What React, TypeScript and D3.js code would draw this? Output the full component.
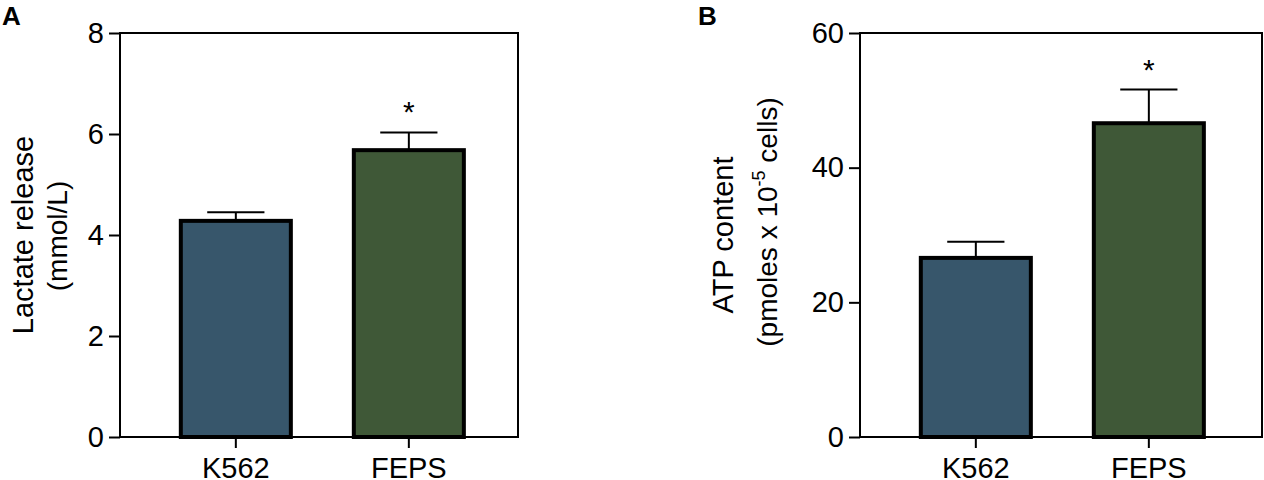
import * as d3 from 'd3';
import React, { useEffect, useRef } from 'react';

// categories shared by both panels
const categories = ['K562', 'FEPS'];

// Panel A: lactate release (mmol/L)
const lactateMeans = [4.28, 5.68];
const lactateErrors = [0.17, 0.35];
const lactateTicks = [0, 2, 4, 6, 8];

// Panel B: ATP content (pmoles x 10^-5 cells)
const atpMeans = [26.6, 46.6];
const atpErrors = [2.4, 5.0];
const atpTicks = [0, 20, 40, 60];

// significance marks
const significant = [false, true];

const barColors = ['#37566b', '#3f5837'];

const FONT = "Arial, 'Liberation Sans', sans-serif";
const W = 1264;
const H = 480;

interface PanelSpec {
   letter: string;
   letterX: number;
   left: number;
   right: number;
   means: number[];
   errors: number[];
   ticks: number[];
   title1: string;
   title1X: number;
   title2X: number;
   title2Y: number;
   isAtp: boolean;
}

const panels: PanelSpec[] = [
   {
      letter: 'A',
      letterX: 2,
      left: 120,
      right: 518,
      means: lactateMeans,
      errors: lactateErrors,
      ticks: lactateTicks,
      title1: 'Lactate release',
      title1X: 33,
      title2X: 67,
      title2Y: 236,
      isAtp: false,
   },
   {
      letter: 'B',
      letterX: 698,
      left: 860,
      right: 1262,
      means: atpMeans,
      errors: atpErrors,
      ticks: atpTicks,
      title1: 'ATP content',
      title1X: 733,
      title2X: 777,
      title2Y: 222,
      isAtp: true,
   },
];

const top = 33;
const bottom = 437;

const App = () => {
   const svgRef = useRef<SVGSVGElement | null>(null);

   useEffect(() => {
      const svgEl = svgRef.current;
      if (!svgEl) return;
      const svg = d3.select(svgEl);
      svg.selectAll('*').remove();

      panels.forEach((p) => {
         const g = svg.append('g');

         const y = d3
            .scaleLinear()
            .domain([0, p.ticks[p.ticks.length - 1]])
            .range([bottom, top]);

         const x = d3
            .scaleBand<string>()
            .domain(categories)
            .range([p.left, p.left + 400])
            .paddingInner(0.364)
            .paddingOuter(0.338)
            .align(0.52);

         const bw = x.bandwidth();

         // error bars (drawn under the bars)
         categories.forEach((c, i) => {
            const cx = (x(c) ?? 0) + bw / 2;
            const yTop = y(p.means[i] + p.errors[i]);
            g.append('line')
               .attr('x1', cx)
               .attr('x2', cx)
               .attr('y1', y(p.means[i]))
               .attr('y2', yTop)
               .attr('stroke', '#000')
               .attr('stroke-width', 2);
            g.append('line')
               .attr('x1', cx - bw * 0.26)
               .attr('x2', cx + bw * 0.26)
               .attr('y1', yTop)
               .attr('y2', yTop)
               .attr('stroke', '#000')
               .attr('stroke-width', 2);
            if (significant[i]) {
               g.append('text')
                  .attr('x', cx)
                  .attr('y', yTop - 10)
                  .attr('text-anchor', 'middle')
                  .attr('font-family', FONT)
                  .attr('font-size', 30)
                  .text('*');
            }
         });

         // bars
         g.selectAll('rect.bar')
            .data(p.means)
            .enter()
            .append('rect')
            .attr('class', 'bar')
            .attr('x', (_, i) => x(categories[i]) ?? 0)
            .attr('width', bw)
            .attr('y', (d) => y(d))
            .attr('height', (d) => bottom - y(d))
            .attr('fill', (_, i) => barColors[i])
            .attr('stroke', '#000')
            .attr('stroke-width', 4);

         // frame
         g.append('rect')
            .attr('x', p.left)
            .attr('y', top)
            .attr('width', p.right - p.left)
            .attr('height', bottom - top)
            .attr('fill', 'none')
            .attr('stroke', '#000')
            .attr('stroke-width', 2);

         // y axis
         const yAxis = g
            .append('g')
            .attr('transform', `translate(${p.left},0)`)
            .call(d3.axisLeft(y).tickValues(p.ticks).tickSize(11).tickPadding(5));
         yAxis.select('.domain').remove();
         yAxis.selectAll('line').attr('stroke-width', 2);
         yAxis.selectAll('text').attr('font-size', 29).attr('font-family', FONT).attr('fill', '#000');

         // x axis
         const xAxis = g
            .append('g')
            .attr('transform', `translate(0,${bottom})`)
            .call(
               d3
                  .axisBottom(x)
                  .tickSize(11)
                  .tickPadding(9),
            );
         xAxis.select('.domain').remove();
         xAxis.selectAll('line').attr('stroke-width', 2);
         xAxis.selectAll('text').attr('font-size', 29).attr('font-family', FONT).attr('fill', '#000');

         // y titles
         g.append('text')
            .attr('transform', `translate(${p.title1X},${(top + bottom) / 2}) rotate(-90)`)
            .attr('text-anchor', 'middle')
            .attr('font-family', FONT)
            .attr('font-size', 29)
            .text(p.title1);

         const t2 = g
            .append('text')
            .attr('transform', `translate(${p.title2X},${p.title2Y}) rotate(-90)`)
            .attr('text-anchor', 'middle')
            .attr('font-family', FONT)
            .attr('font-size', 28);
         if (p.isAtp) {
            t2.append('tspan').text('(pmoles x 10');
            t2.append('tspan').attr('font-size', 18).attr('dy', -12).text('-5');
            t2.append('tspan').attr('dy', 12).text(' cells)');
         } else {
            t2.text('(mmol/L)');
         }

         // panel letter
         g.append('text')
            .attr('x', p.letterX)
            .attr('y', 25)
            .attr('font-family', FONT)
            .attr('font-weight', 'bold')
            .attr('font-size', 26)
            .text(p.letter);
      });
   }, []);

   return (
      <svg
         ref={svgRef}
         width={W}
         height={H}
         style={{ position: 'absolute', left: 0, top: 0, background: '#fff' }}
      />
   );
};

export default App;
